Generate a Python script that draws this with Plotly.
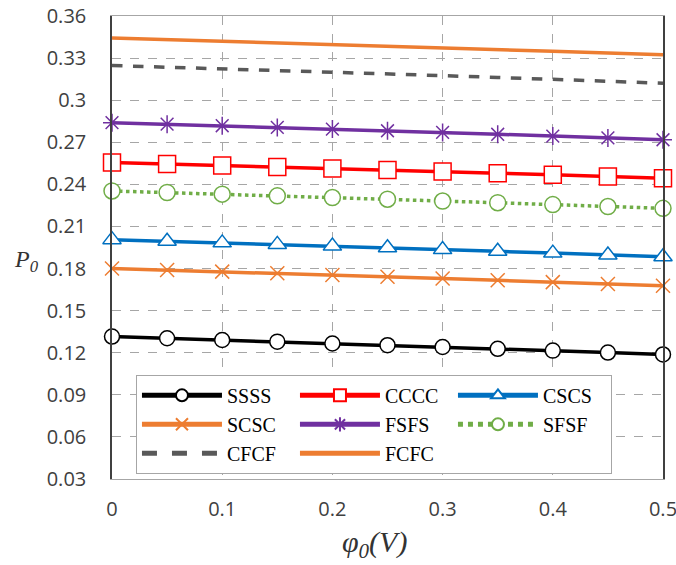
import plotly.graph_objects as go

phi = [0, 0.05, 0.1, 0.15, 0.2, 0.25, 0.3, 0.35, 0.4, 0.45, 0.5]
SSSS = [0.1315, 0.1303, 0.1291, 0.1279, 0.1266, 0.1254, 0.1241, 0.1228, 0.1215, 0.1201, 0.1188]
CCCC = [0.2555, 0.2545, 0.2535, 0.2524, 0.2513, 0.2502, 0.2491, 0.2480, 0.2468, 0.2456, 0.2444]
CSCS = [0.2006, 0.1995, 0.1983, 0.1972, 0.1960, 0.1948, 0.1935, 0.1923, 0.1910, 0.1897, 0.1884]
SCSC = [0.1800, 0.1789, 0.1778, 0.1766, 0.1754, 0.1742, 0.1729, 0.1716, 0.1703, 0.1690, 0.1677]
FSFS = [0.2840, 0.2829, 0.2818, 0.2806, 0.2794, 0.2782, 0.2770, 0.2757, 0.2744, 0.2731, 0.2718]
SFSF = [0.2353, 0.2342, 0.2330, 0.2318, 0.2306, 0.2294, 0.2281, 0.2269, 0.2256, 0.2242, 0.2229]
CFCF = [0.3247, 0.3236, 0.3224, 0.3212, 0.3200, 0.3188, 0.3175, 0.3162, 0.3149, 0.3135, 0.3121]
FCFC = [0.3443, 0.3432, 0.3421, 0.3409, 0.3397, 0.3385, 0.3373, 0.3361, 0.3349, 0.3336, 0.3324]

y_tickvals = [0.03, 0.06, 0.09, 0.12, 0.15, 0.18, 0.21, 0.24, 0.27, 0.3, 0.33, 0.36]
y_ticktext = ["0.03", "0.06", "0.09", "0.12", "0.15", "0.18", "0.21", "0.24", "0.27", "0.3", "0.33", "0.36"]
x_tickvals = [0, 0.1, 0.2, 0.3, 0.4, 0.5]
x_ticktext = ["0", "0.1", "0.2", "0.3", "0.4", "0.5"]

fig = go.Figure()

def add(name, y, color, symbol=None, dash="solid", msize=14, fill="white", mline=1.5):
    mode = "lines+markers" if symbol else "lines"
    marker = None
    if symbol:
        marker = dict(symbol=symbol, size=msize, color=fill, line=dict(color=color, width=mline))
    fig.add_trace(go.Scatter(x=phi, y=y, name=name, mode=mode,
                             line=dict(color=color, width=3.5, dash=dash),
                             marker=marker, cliponaxis=False))

add("SSSS", SSSS, "#000000", "circle", msize=15)
add("CCCC", CCCC, "#FF0000", "square", msize=17)
add("CSCS", CSCS, "#0070C0", "triangle-up", msize=16)
add("SCSC", SCSC, "#ED7D31", "x-thin", msize=14, fill="#ED7D31", mline=1.5)
add("FSFS", FSFS, "#7030A0", "asterisk", msize=15, fill="#7030A0", mline=1.5)
add("SFSF", SFSF, "#70AD47", "circle", dash="dot", msize=16)
add("CFCF", CFCF, "#595959", None, dash="dash")
add("FCFC", FCFC, "#ED7D31", None)

tick_font = dict(family="Open Sans", size=20, color="#404040")

fig.update_layout(
    width=676, height=565, autosize=False,
    margin=dict(l=112, r=13, t=16, b=86),
    paper_bgcolor="white", plot_bgcolor="white",
    showlegend=True,
    legend=dict(orientation="h", x=0.0435, y=0.225, xanchor="left", yanchor="top",
                bgcolor="white", bordercolor="#A6A6A6", borderwidth=1,
                font=dict(family="Liberation Serif", size=20, color="#000000"),
                entrywidth=63, itemwidth=80, tracegroupgap=0, itemsizing="constant"),
    xaxis=dict(range=[0, 0.5], tickvals=x_tickvals, ticktext=x_ticktext,
               showgrid=True, gridcolor="#A6A6A6", griddash="dash", gridwidth=1,
               showline=True, mirror=True, linecolor="#A6A6A6", linewidth=1,
               zeroline=False, ticks="", ticklabelstandoff=12, automargin=False,
               ticklabeloverflow="allow", tickfont=tick_font),
    yaxis=dict(range=[0.03, 0.36], tickvals=y_tickvals, ticktext=y_ticktext,
               showgrid=True, gridcolor="#A6A6A6", griddash="dash", gridwidth=1,
               showline=True, mirror=True, linecolor="#404040", linewidth=1.5,
               zeroline=False, ticks="", ticklabelstandoff=20, automargin=False,
               ticklabeloverflow="allow", tickfont=tick_font),
    annotations=[
        dict(text="<i>P<sub>0</sub></i>", xref="paper", yref="paper", x=-0.182, y=0.47,
             xanchor="left", showarrow=False,
             font=dict(family="Liberation Serif", size=24, color="#333333")),
        dict(text="<i>φ<sub>0</sub>(V)</i>", xref="paper", yref="paper", x=0.477, y=-0.141,
             yanchor="middle", showarrow=False,
             font=dict(family="Liberation Serif", size=30, color="#333333")),
    ],
)

fig.write_html("out.html",
               config={"displayModeBar": False, "responsive": False},
               post_script="document.body.style.margin='0';document.body.style.overflow='hidden';")
